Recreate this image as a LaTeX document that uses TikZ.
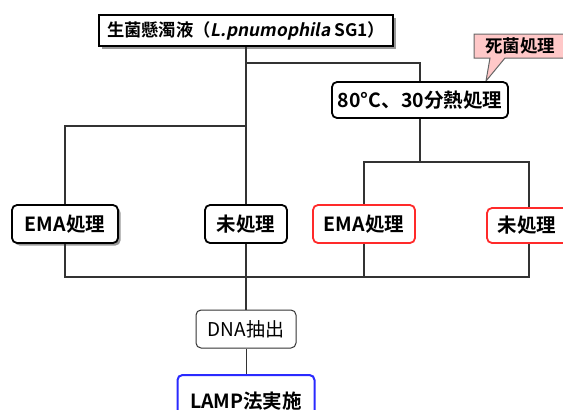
\documentclass[tikz,border=0pt]{standalone}
\usepackage{fontspec}
\setmainfont{Noto Sans CJK JP}[BoldFont={Noto Sans CJK JP Bold}]
\newfontfamily\slfont{Noto Sans CJK JP}[FakeSlant=0.2,BoldFont={Noto Sans CJK JP Bold},BoldFeatures={FakeSlant=0.2}]
\usetikzlibrary{shadows}
\definecolor{lnc}{HTML}{333333}
\definecolor{redb}{HTML}{FF2A2A}
\definecolor{blueb}{HTML}{2A2AFF}
\definecolor{pinkf}{HTML}{FFC8C8}
\begin{document}
\begin{tikzpicture}[x=1pt,y=-1pt,
  box/.style={draw=black,line width=1.8pt,fill=white,inner sep=0pt,font=\fontsize{19.5}{19.5}\selectfont\bfseries},
  rbox/.style={box,rounded corners=5pt},
  shad/.style={drop shadow={shadow xshift=2.5pt,shadow yshift=-2.5pt,fill=gray!80,opacity=1}},
  redbox/.style={rbox,draw=redb},
  bluebox/.style={rbox,draw=blueb},
  conn/.style={draw=lnc,line width=1.6pt}]
\useasboundingbox (0,0) rectangle (563,410);
\begin{scope}
\clip (0,0) rectangle (563,410);
% callout
\path[draw=gray!80!black,line width=1pt,fill=pinkf]
  (474,34) -- (570,34) -- (570,58) -- (505,58) -- (486,81) -- (490,58) -- (474,58) -- cycle;
\node[font=\fontsize{17.5}{17.5}\selectfont\bfseries] (call) at (520,46) {死菌処理};
% nodes
\node[box,shad,minimum width=294,minimum height=31,font=\fontsize{17.3}{17.3}\selectfont\bfseries] (top) at (246,30.5)
  {生菌懸濁液（{\slfont L.pnumophila} SG1）};
\node[rbox,minimum width=176,minimum height=36] (heat) at (420,100) {80°C、30分熱処理};
\node[rbox,shad,minimum width=106,minimum height=38] (emaL) at (65,224) {EMA処理};
\node[rbox,minimum width=82,minimum height=38] (noneL) at (246,224) {未処理};
\node[redbox,minimum width=102,minimum height=38] (emaR) at (364,224) {EMA処理};
\node[redbox,minimum width=84,minimum height=35] (noneR) at (529,225.5) {\hspace*{-4pt}未処理};
\node[rbox,line width=1pt,draw=lnc,minimum width=100,minimum height=38,font=\fontsize{19}{19}\selectfont] (dna) at (246,329) {DNA抽出};
\node[bluebox,line width=2pt,minimum width=137,minimum height=52] (lamp) at (246,401) {LAMP法実施};
% connector coordinates
\coordinate (j1) at (246,63);
\coordinate (j2) at (246,126);
\coordinate (j3) at (420,162);
\coordinate (j4) at (246,277);
% connectors
\draw[conn] (top.south) -- (noneL.north);
\draw[conn] (j1) -| (heat.north);
\draw[conn] (j2) -| (emaL.north);
\draw[conn] (heat.south) -- (j3);
\draw[conn] (j3) -| (emaR.north);
\draw[conn] (j3) -| (noneR.north);
\draw[conn] (emaL.south) |- (j4);
\draw[conn] (noneR.south) |- (j4);
\draw[conn] (emaR.south) -- (emaR.south |- j4);
\draw[conn] (noneL.south) -- (dna.north);
\draw[conn,line width=1pt] (dna.south) -- (lamp.north);
\end{scope}
\end{tikzpicture}
\end{document}
